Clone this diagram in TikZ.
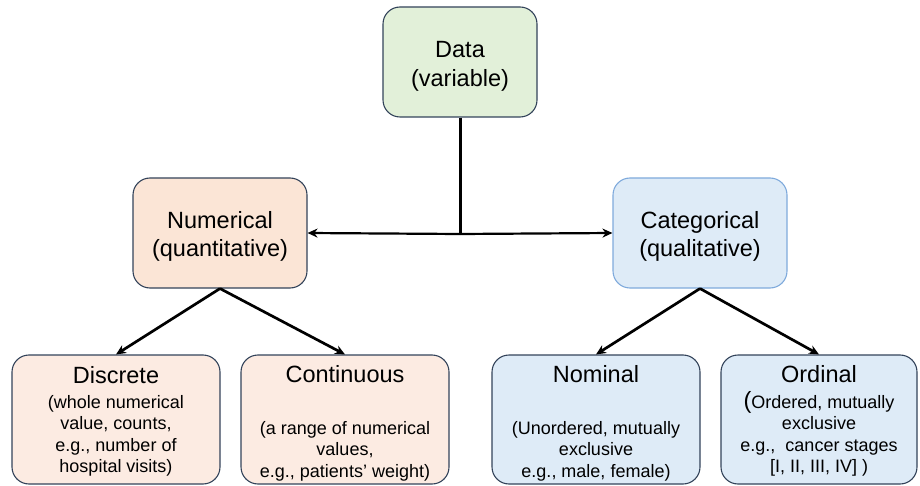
\documentclass[tikz,border=0pt]{standalone}
\usepackage{fontspec}
\setmainfont{Liberation Sans}
\usetikzlibrary{arrows.meta}
\definecolor{greenfill}{HTML}{E2F0D9}
\definecolor{peachfill}{HTML}{FBE5D6}
\definecolor{peachlight}{HTML}{FCEBE2}
\definecolor{bluefill}{HTML}{DEEBF7}
\definecolor{darkedge}{HTML}{33435A}
\definecolor{blueedge}{HTML}{7FAADC}
\tikzset{
  box/.style={draw=darkedge, line width=1.1pt, rounded corners=17pt, inner sep=0pt},
  topbox/.style={box, minimum width=174pt, minimum height=110pt},
  lowbox/.style={box, minimum width=208pt, minimum height=129pt},
  ttl/.style={anchor=base, inner sep=0pt, font=\fontsize{23.5}{28}\selectfont},
  sml/.style={anchor=base, inner sep=0pt, font=\fontsize{18}{21.5}\selectfont},
  conn/.style={line width=3pt},
  arr/.style={line width=2.7pt, -{Stealth[length=10pt,width=9pt]}},
}
\begin{document}
\begin{tikzpicture}[x=1pt,y=-1pt]
\useasboundingbox (0,0) rectangle (920,486);
% boxes
\node[box, fill=greenfill, minimum width=154pt, minimum height=110pt] (data) at (460,62) {};
\node[topbox, fill=peachfill] (num) at (220,233) {};
\node[topbox, fill=bluefill, draw=blueedge] (cat) at (700,233) {};
\node[lowbox, fill=peachlight] (disc) at (116,419.5) {};
\node[lowbox, fill=peachlight] (cont) at (345,419.5) {};
\node[lowbox, fill=bluefill] (nom) at (596,419.5) {};
\node[lowbox, fill=bluefill, minimum width=196pt] (ord) at (819,419.5) {};
% texts
\node[ttl] (dataA) at (460,58) {Data};
\node[ttl] (dataB) at (460,87) {(variable)};
\node[ttl] (numA) at (220,228.5) {Numerical};
\node[ttl] (numB) at (220,257) {(quantitative)};
\node[ttl] (catA) at (700,229) {Categorical};
\node[ttl] (catB) at (700,257) {(qualitative)};
\node[ttl] (discA) at (116,383.5) {Discrete};
\node[sml] (discB) at (116,408) {(whole numerical};
\node[sml] (discC) at (116,429.5) {value, counts,};
\node[sml] (discD) at (116,451) {e.g., number of};
\node[sml] (discE) at (116,472.5) {hospital visits)};
\node[ttl] (contA) at (345,382) {Continuous};
\node[sml] (contB) at (345,434) {(a range of numerical};
\node[sml] (contC) at (345,455.5) {values,};
\node[sml] (contD) at (345,477) {e.g., patients’ weight)};
\node[ttl] (nomA) at (596,382) {Nominal};
\node[sml] (nomB) at (596,434) {(Unordered, mutually};
\node[sml] (nomC) at (596,455.5) {exclusive};
\node[sml] (nomD) at (596,477) {e.g., male, female)};
\node[ttl] (ordA) at (819,382) {Ordinal};
\node[sml] (ordB) at (819,408) {{\fontsize{23.5}{28}\selectfont(}Ordered, mutually};
\node[sml] (ordC) at (819,429.5) {exclusive};
\node[sml] (ordD) at (819,451) {e.g.,\ \ cancer stages};
\node[sml] (ordE) at (819,472.5) {[I, II, III, IV] )};
% connectors
\coordinate (jn) at (460,234);
\draw[conn] (data.south) -- ([yshift=-1.5pt]jn);
\draw[arr, line width=2.2pt] (jn) -- (num.east);
\draw[arr, line width=2.2pt] (jn) -- (cat.west);
\draw[arr] (num.south) -- (disc.north);
\draw[arr] (num.south) -- (cont.north);
\draw[arr] (cat.south) -- (nom.north);
\draw[arr] (cat.south) -- (ord.north);
\end{tikzpicture}
\end{document}
